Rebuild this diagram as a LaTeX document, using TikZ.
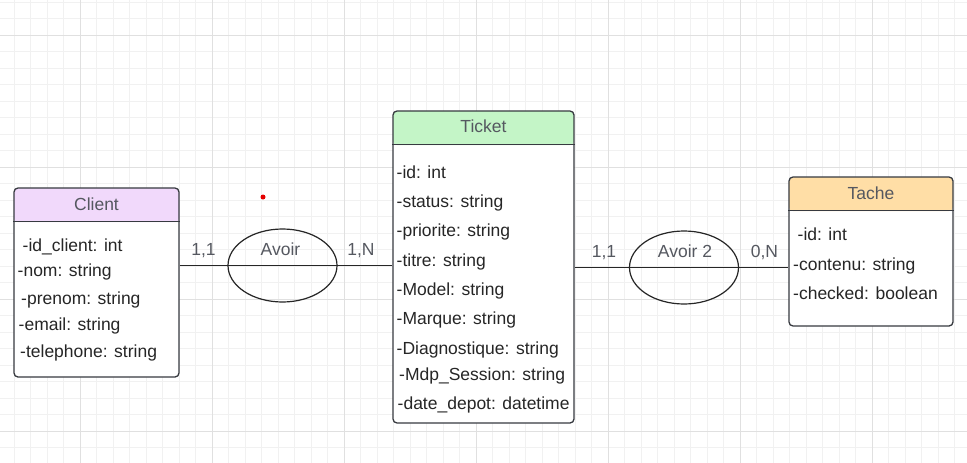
\documentclass[tikz,border=0pt]{standalone}
\usepackage{fontspec}
\setmainfont{Liberation Sans}
\usetikzlibrary{shapes.geometric}
\definecolor{gridminor}{RGB}{241,241,241}
\definecolor{gridmajor}{RGB}{224,224,224}
\definecolor{edgecol}{RGB}{55,58,64}
\definecolor{headtext}{RGB}{85,88,96}
\definecolor{clientcol}{RGB}{241,217,251}
\definecolor{ticketcol}{RGB}{196,245,199}
\definecolor{tachecol}{RGB}{255,222,166}

\begin{document}
\begin{tikzpicture}[x=1pt,y=-1pt,
  entity/.style={draw=edgecol, line width=1.3pt, rounded corners=4pt, fill=white, inner sep=0pt,
    path picture={\fill[#1] (path picture bounding box.north west) rectangle ([yshift=-34pt]path picture bounding box.north east);}},
  head/.style={anchor=base, inner sep=0pt, text=headtext, font=\fontsize{17.5}{21}\selectfont},
  attr/.style={anchor=base west, inner sep=0pt, text=black!85, font=\fontsize{17.5}{21}\selectfont},
  card/.style={anchor=base, inner sep=0pt, text=headtext, font=\fontsize{17.5}{21}\selectfont},
  rel/.style={ellipse, draw=black!85, line width=1.2pt, minimum width=109pt, minimum height=73pt, inner sep=0pt},
  link/.style={draw=black!85, line width=1.6pt}]
\useasboundingbox (0,0) rectangle (967,463);
\fill[white] (0,0) rectangle (967,463);
\foreach \i in {0,...,59} \draw[gridminor, line width=0.8pt] ({-2.5+16.5*\i},0) -- ({-2.5+16.5*\i},463);
\foreach \i in {0,...,28} \draw[gridminor, line width=0.8pt] (0,{2+16.5*\i}) -- (967,{2+16.5*\i});
\foreach \x in {80,212,...,872} \draw[gridmajor, line width=0.8pt] (\x,0) -- (\x,463);
\foreach \y in {35,167,299,431} \draw[gridmajor, line width=0.8pt] (0,\y) -- (967,\y);

\node[entity=clientcol, minimum width=165pt, minimum height=189pt] (client) at (96.5,282.5) {};
\node[entity=ticketcol, minimum width=181pt, minimum height=312pt] (ticket) at (483.5,267) {};
\node[entity=tachecol, minimum width=164pt, minimum height=149pt] (tache) at (871,251.5) {};
\draw[edgecol, line width=1.3pt] ([yshift=-34pt]client.north west) -- ([yshift=-34pt]client.north east);
\draw[edgecol, line width=1.3pt] ([yshift=-34pt]ticket.north west) -- ([yshift=-34pt]ticket.north east);
\draw[edgecol, line width=1.3pt] ([yshift=-34pt]tache.north west) -- ([yshift=-34pt]tache.north east);

\node[head] (clientname) at (96.5,210) {Client};
\node[head] (ticketname) at (483.5,132) {Ticket};
\node[head] (tachename) at (871,199) {Tache};

\node[attr] (idclient) at (22.5,251) {-id\_client: int};
\node[attr] (nom) at (17.5,276) {-nom: string};
\node[attr] (prenom) at (21,304) {-prenom: string};
\node[attr] (email) at (18.5,330) {-email: string};
\node[attr] (telephone) at (20,357) {-telephone: string};

\node[attr] (idticket) at (396.5,178) {-id: int};
\node[attr] (status) at (396.5,207) {-status: string};
\node[attr] (priorite) at (396.5,236) {-priorite: string};
\node[attr] (titre) at (396.5,266) {-titre: string};
\node[attr] (model) at (396.5,295) {-Model: string};
\node[attr] (marque) at (396.5,324) {-Marque: string};
\node[attr] (diagnostique) at (396.5,354) {-Diagnostique: string};
\node[attr] (mdpsession) at (399,380) {-Mdp\_Session: string};
\node[attr] (datedepot) at (397.5,409) {-date\_depot: datetime};

\node[attr] (idtache) at (797.5,240) {-id: int};
\node[attr] (contenu) at (793,270) {-contenu: string};
\node[attr] (checked) at (793,299) {-checked: boolean};

\node[rel] (avoir) at (282.5,265.5) {};
\node[rel] (avoirdeux) at (684,267.5) {};
\draw[link] (client.east |- avoir) -- (ticket.west |- avoir);
\draw[link] (ticket.east |- avoirdeux) -- (tache.west |- avoirdeux);

\node[card] (avoirname) at (280.5,255) {Avoir};
\node[card] (cardclient) at (203.5,255) {1,1};
\node[card] (cardticketa) at (361,255) {1,N};
\node[card] (avoirdeuxname) at (685,257) {Avoir 2};
\node[card] (cardticketb) at (604,257) {1,1};
\node[card] (cardtache) at (764.5,257) {0,N};

\fill[red!90!black] (263,197) circle[radius=2.5pt];
\end{tikzpicture}
\end{document}
